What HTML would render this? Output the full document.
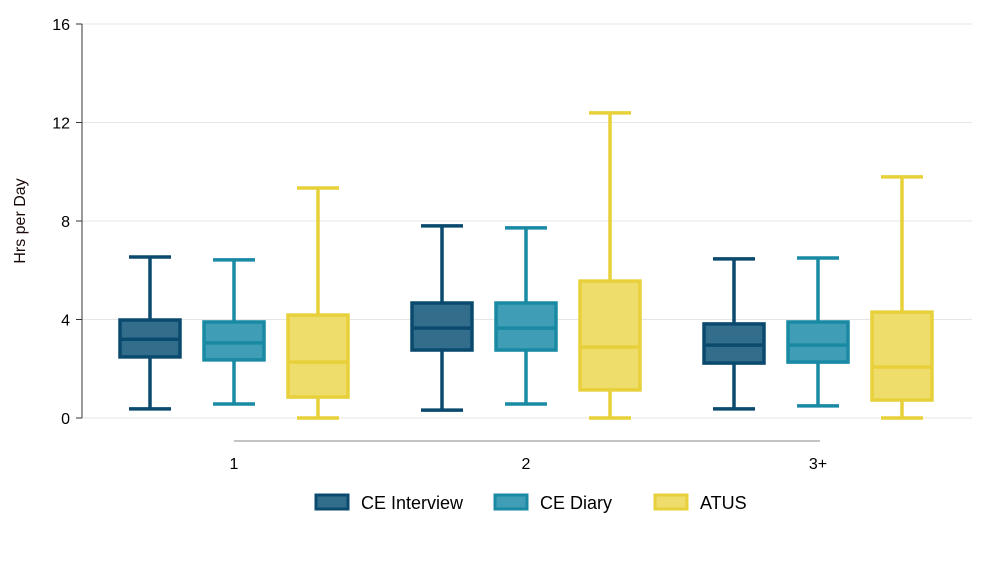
<!DOCTYPE html>
<html><head><meta charset="utf-8"><style>
body{margin:0;background:#fff;font-family:"Liberation Sans",sans-serif}
</style></head><body>
<svg id="c" width="1000" height="556" font-family="Liberation Sans, sans-serif"></svg>
<script>
const categories=["1","2","3+"];
const seriesNames=["CE Interview","CE Diary","ATUS"];
// [min, q1, median, q3, max] per category
const ceInterview=[[0.37,2.48,3.2,3.98,6.54],[0.32,2.76,3.65,4.67,7.8],[0.37,2.23,2.96,3.82,6.46]];
const ceDiary=[[0.57,2.36,3.05,3.9,6.42],[0.57,2.76,3.65,4.67,7.72],[0.49,2.27,2.96,3.9,6.5]];
const atus=[[0,0.85,2.27,4.18,9.34],[0,1.14,2.88,5.56,12.39],[0,0.73,2.07,4.3,9.79]];
const yTicks=[0,4,8,12,16];
const series=[ceInterview,ceDiary,atus];
const strokes=["#0b4a6f","#1a8aa4","#e8d03a"];
const fills=["#336d8c","#3f9db5","#eedd6a"];
const svg=document.getElementById('c');
const NS="http://www.w3.org/2000/svg";
function el(t,a,p){const e=document.createElementNS(NS,t);for(const k in a)e.setAttribute(k,a[k]);(p||svg).appendChild(e);return e;}
const y=v=>418-v*24.625;
const x=(ci,si)=>234+ci*292+(si-1)*84;
yTicks.forEach(t=>{
  const g=el('line',{x1:82,x2:972,y1:y(t),y2:y(t),stroke:'#e6e6e6','stroke-width':1});
  
  
  const tk=el('line',{x1:76,x2:82,y1:y(t),y2:y(t),stroke:'#333'});
  
  
  const tx=el('text',{x:70,y:y(t)+6,'text-anchor':'end','font-size':16,fill:'#000'});
  tx.textContent=t;
  
  
});
const ax=el('line',{x1:82,x2:82,y1:24,y2:418,stroke:'#333'});


const yt=el('text',{transform:'translate(25,221) rotate(-90)','text-anchor':'middle','font-size':16,fill:'#1a0a0a'});
yt.textContent='Hrs per Day';


const xb=el('line',{x1:234,x2:820,y1:441,y2:441,stroke:'#888'});


categories.forEach((c,ci)=>{
  const t=el('text',{x:x(ci,1),y:469,'text-anchor':'middle','font-size':16});
  t.textContent=c;
  
  
  series.forEach((s,si)=>{
    const [mn,q1,md,q3,mx]=s[ci];const cx=x(ci,si);const w=60;
    const g=el('g',{stroke:strokes[si],'stroke-width':3.5});
    
    
    el('line',{x1:cx,x2:cx,y1:y(mx),y2:y(q3)},g);
    el('line',{x1:cx,x2:cx,y1:y(q1),y2:y(mn)},g);
    el('line',{x1:cx-21,x2:cx+21,y1:y(mx),y2:y(mx)},g);
    el('line',{x1:cx-21,x2:cx+21,y1:y(mn),y2:y(mn)},g);
    el('rect',{x:cx-w/2,y:y(q3),width:w,height:y(q1)-y(q3),fill:fills[si]},g);
    el('line',{x1:cx-w/2,x2:cx+w/2,y1:y(md),y2:y(md)},g);
  });
});
const lx=[316,495,655];
seriesNames.forEach((n,i)=>{
  const r=el('rect',{x:lx[i],y:495,width:32,height:14,fill:fills[i],stroke:strokes[i],'stroke-width':3});
  
  
  const t=el('text',{x:lx[i]+45,y:509,'font-size':18});
  t.textContent=n;
  
  
});
</script>
</body></html>
